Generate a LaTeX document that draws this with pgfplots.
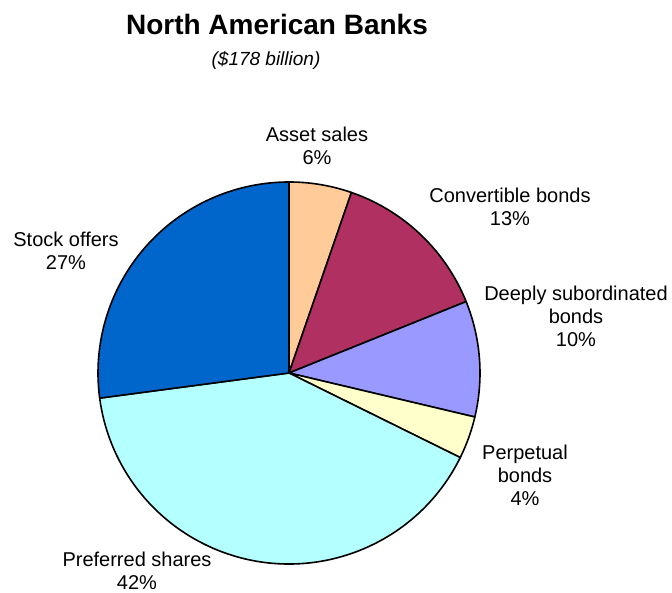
\documentclass[border=0pt]{standalone}
\usepackage{fontspec}
\setmainfont{Liberation Sans}
\usepackage{pgfplots}
\usepackage{pgfplotstable}
\pgfplotsset{compat=1.18}
\definecolor{cStock}{HTML}{0066CC}
\definecolor{cAsset}{HTML}{FFCC99}
\definecolor{cConv}{RGB}{176,48,98}
\definecolor{cDeep}{HTML}{9999FF}
\definecolor{cPerp}{HTML}{FFFFCC}
\definecolor{cPref}{HTML}{B4FFFF}
\pgfplotstableread{
idx value color
0 5.3 cAsset
1 13.6 cConv
2 9.8 cDeep
3 3.6 cPerp
4 40.6 cPref
5 27.1 cStock
}\piedata
\begin{document}
\begin{tikzpicture}
\begin{axis}[scale only axis, width=672pt, height=593pt,
  xmin=0, xmax=672, ymin=0, ymax=593, hide axis, clip=false]
\pgfplotsextra{%
  \xdef\startangle{90}%
  \pgfplotstableforeachcolumnelement{value}\of\piedata\as\val{%
    \pgfmathsetmacro\endangle{\startangle - 3.6*\val}%
    \pgfplotstablegetelem{\pgfplotstablerow}{color}\of\piedata
    \edef\col{\pgfplotsretval}%
    \filldraw[fill=\col, draw=black, line width=1.6pt, line join=round]
      (axis cs:289,220) -- ++(\startangle:191pt)
      arc[start angle=\startangle, end angle=\endangle, radius=191pt] -- cycle;
    \xdef\startangle{\endangle}%
  }%
}
\node[inner sep=0pt, font=\fontsize{28}{32}\selectfont\bfseries] at (axis cs:277,568) {North American Banks};
\node[inner sep=0pt, font=\fontsize{19}{22}\selectfont\itshape] at (axis cs:266,533) {(\$178 billion)};
\node[inner sep=0pt, font=\fontsize{20}{23}\selectfont, align=center] at (axis cs:317,447) {Asset sales\\6\%};
\node[inner sep=0pt, font=\fontsize{20}{23}\selectfont, align=center] at (axis cs:510,386) {Convertible bonds\\13\%};
\node[inner sep=0pt, font=\fontsize{20}{23}\selectfont, align=center] at (axis cs:576,277) {Deeply subordinated\\bonds\\10\%};
\node[inner sep=0pt, font=\fontsize{20}{23}\selectfont, align=center] at (axis cs:525,118) {Perpetual\\bonds\\4\%};
\node[inner sep=0pt, font=\fontsize{20}{23}\selectfont, align=center] at (axis cs:137,22) {Preferred shares\\42\%};
\node[inner sep=0pt, font=\fontsize{20}{23}\selectfont, align=center] at (axis cs:66,342) {Stock offers\\27\%};
\end{axis}
\pgfresetboundingbox
\path[use as bounding box] (0,0) rectangle (672pt,593pt);
\end{tikzpicture}
\end{document}
